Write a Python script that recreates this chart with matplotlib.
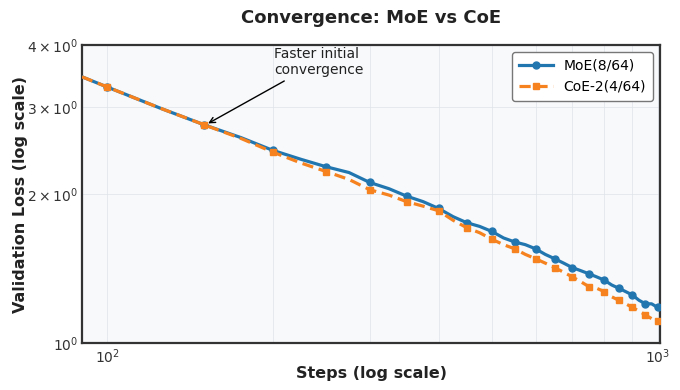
import matplotlib
matplotlib.use("Agg")
import matplotlib.pyplot as plt

# validation loss
steps = [90, 100, 125, 150, 175, 200, 225, 250, 275, 300, 325, 350, 375, 400,
         425, 450, 475, 500, 525, 550, 575, 600, 625, 650, 675, 700, 725, 750,
         775, 800, 825, 850, 875, 900, 925, 950, 975, 1000]
moe_loss = [3.45, 3.29, 2.98, 2.76, 2.60, 2.45, 2.35, 2.27, 2.21, 2.11, 2.05,
            1.98, 1.93, 1.87, 1.80, 1.75, 1.72, 1.68, 1.63, 1.60, 1.58, 1.55,
            1.51, 1.48, 1.45, 1.42, 1.40, 1.38, 1.36, 1.34, 1.31, 1.29, 1.27,
            1.25, 1.22, 1.20, 1.20, 1.18]
coe_loss = [3.45, 3.29, 2.98, 2.76, 2.59, 2.43, 2.31, 2.22, 2.14, 2.04, 1.99,
            1.93, 1.89, 1.85, 1.77, 1.71, 1.67, 1.62, 1.58, 1.55, 1.51, 1.48,
            1.45, 1.42, 1.39, 1.36, 1.33, 1.30, 1.29, 1.27, 1.24, 1.22, 1.20,
            1.18, 1.16, 1.14, 1.12, 1.11]
labels = ["MoE(8/64)", "CoE-2(4/64)"]


def create_convergence_plot():
    fig = plt.figure(figsize=(6.8, 3.9), dpi=100)
    ax = fig.add_axes([0.1206, 0.1205, 0.85, 0.7641])
    ax.set_facecolor("#f7f9fb")

    marks = [i for i, s in enumerate(steps) if s % 50 == 0]
    ax.plot(steps, moe_loss, color="#2276b0", linewidth=2.3, marker="o",
            markersize=5, markevery=marks, label=labels[0], zorder=3)
    ax.plot(steps, coe_loss, color="#f5821f", linewidth=2.3, linestyle="--",
            marker="s", markersize=5, markevery=marks, label=labels[1], zorder=3,
            dashes=(3.5, 1.8))

    ax.set_xscale("log")
    ax.set_yscale("log")
    ax.set_xlim(90, 1010)
    ax.set_ylim(1.0, 4.0)

    ax.grid(True, which="both", color="#dfe3e8", linewidth=0.6, alpha=0.8)
    ax.tick_params(which="both", length=0, labelsize=10, colors="#333333", pad=3)
    for side in ["left", "right", "top", "bottom"]:
        ax.spines[side].set_color("#333333")
        ax.spines[side].set_linewidth(1.6)

    ax.annotate("Faster initial\nconvergence", xy=(151, 2.76), xytext=(201, 3.70),
                fontsize=10, color="#222222", va="center", ha="left",
                arrowprops=dict(arrowstyle="->", color="black", lw=1))

    ax.set_title("Convergence: MoE vs CoE", fontsize=13, fontweight="bold",
                 color="#222222", pad=16)
    ax.set_xlabel("Steps (log scale)", fontsize=11.5, fontweight="bold",
                  color="#222222")
    ax.set_ylabel("Validation Loss (log scale)", fontsize=11.5, fontweight="bold",
                  color="#222222")
    ax.xaxis.set_label_coords(0.5, -0.078)
    ax.yaxis.set_label_coords(-0.093, 0.5)

    leg = ax.legend(loc="upper right", fontsize=10, frameon=True, fancybox=True,
                    borderpad=0.5, handlelength=2.4)
    leg.get_frame().set_edgecolor("#777777")
    leg.get_frame().set_facecolor("white")
    leg.get_frame().set_alpha(1.0)

    fig.savefig("out.png", dpi=100)


if "__main__" == __name__:
    create_convergence_plot()
